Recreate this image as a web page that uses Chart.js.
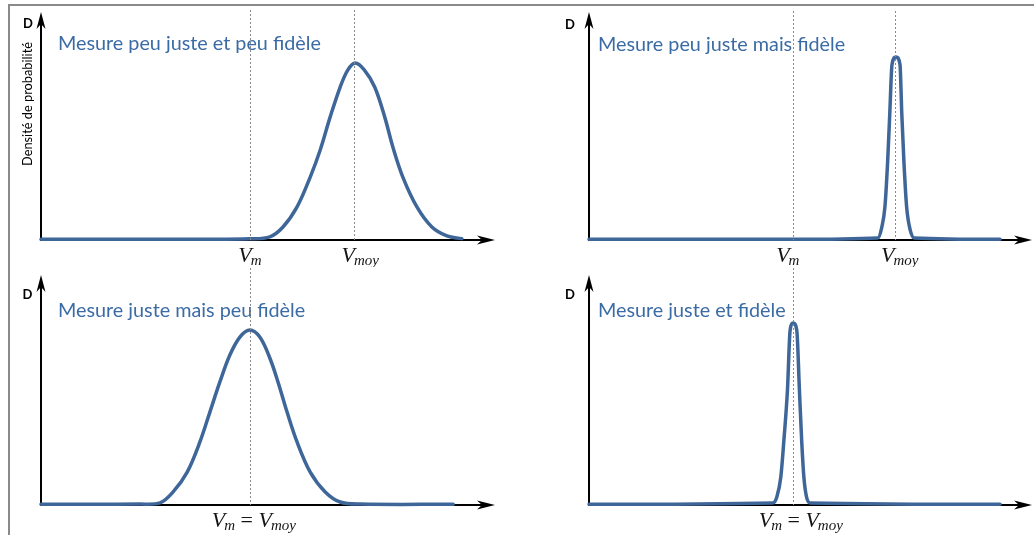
<!DOCTYPE html>
<html><head><meta charset="utf-8">
<script src="https://cdn.jsdelivr.net/npm/chart.js@4"></script>
<style>
html,body{margin:0;padding:0;background:#fff;}
#page{position:relative;width:1034px;height:535px;overflow:hidden;background:#fff;}
#frame{position:absolute;left:8px;top:4px;width:1040px;height:540px;border-top:2px solid #8a8a8a;border-left:2px solid #8a8a8a;}
canvas{position:absolute;}
</style></head><body>
<div id="page">
<div id="frame"></div>
<canvas id="c0" width="517" height="267" style="left:0;top:0"></canvas>
<canvas id="c1" width="517" height="267" style="left:517px;top:0"></canvas>
<canvas id="c2" width="517" height="268" style="left:0;top:267px"></canvas>
<canvas id="c3" width="517" height="268" style="left:517px;top:267px"></canvas>
</div>
<script>
// ---------- data ----------
const titles = ["Mesure peu juste et peu fidèle", "Mesure peu juste mais fidèle", "Mesure juste mais peu fidèle", "Mesure juste et fidèle"];
const yAxisTitle = "Densité de probabilité";
const yAxisLetter = "D";
const xMin = -46, xMax = 54;
const vM = 0;          // valeur vraie
const vMoyShift = 23;  // valeur moyenne (mesure peu juste)

// peu juste et peu fidèle
const tlX = [-46, -10, 0, 4.4, 7.3, 10.4, 13.3, 15.5, 17.7, 19.9, 21.6, 23.2, 25.2, 27.5, 29.7, 31.5, 33.7, 36.8, 40.1, 43.4, 46.7];
const tlY = [0.003, 0.003, 0.005, 0.014, 0.057, 0.145, 0.276, 0.395, 0.54, 0.671, 0.746, 0.776, 0.746, 0.671, 0.54, 0.408, 0.276, 0.145, 0.057, 0.018, 0.006];
// peu juste mais fidèle
const trX = [-46, 0, 19.2, 20.1, 20.8, 21.4, 21.9, 22.4, 23.3, 24.2, 24.6, 25.1, 25.7, 26.5, 27.4, 46.8];
const trY = [0.003, 0.003, 0.009, 0.057, 0.145, 0.338, 0.557, 0.77, 0.803, 0.77, 0.557, 0.338, 0.145, 0.044, 0.009, 0.003];
// juste mais peu fidèle
const blX = [-46, -24.2, -19.8, -16.9, -13.8, -11.0, -8.8, -6.6, -4.4, -2.2, 0, 2.2, 4.4, 6.2, 8.2, 10.4, 13.3, 16.6, 19.9, 24.3, 44.8];
const blY = [0.003, 0.004, 0.009, 0.057, 0.143, 0.274, 0.404, 0.535, 0.652, 0.730, 0.761, 0.730, 0.639, 0.535, 0.404, 0.274, 0.143, 0.057, 0.013, 0.004, 0.003];
// juste et fidèle
const brX = [-46, -4.5, -3.6, -2.7, -2.0, -1.2, -0.6, 0.1, 0.9, 1.5, 2.0, 2.5, 3.1, 3.9, 46.8];
const brY = [0.003, 0.009, 0.035, 0.122, 0.283, 0.5, 0.76, 0.791, 0.76, 0.5, 0.283, 0.122, 0.035, 0.009, 0.003];

// ---------- style ----------
const CURVE = '#3e6699';
const TITLE_COLOR = '#3b6ba5';
const SERIF = '"Liberation Serif", "DejaVu Serif", serif';
const SANS = 'Lato, "Open Sans", sans-serif';

function fitSize(ctx, family, weight, text, target, base) {
  ctx.save();
  ctx.font = weight + ' ' + base + 'px ' + family;
  const w = ctx.measureText(text).width;
  ctx.restore();
  return base * target / w;
}

function arrowHead(ctx, x, y, dx, dy, L, W, back) {
  const px = -dy, py = dx;
  ctx.beginPath();
  ctx.moveTo(x, y);
  ctx.lineTo(x - dx * L + px * W, y - dy * L + py * W);
  ctx.lineTo(x - dx * back, y - dy * back);
  ctx.lineTo(x - dx * L - px * W, y - dy * L - py * W);
  ctx.closePath();
  ctx.fill();
}

function drawMath(ctx, parts, cx, baseline) {
  let total = 0;
  parts.forEach(p => {
    ctx.font = (p.italic ? 'italic ' : '') + p.size + 'px ' + SERIF;
    p.w = ctx.measureText(p.t).width;
    total += p.w + (p.gap || 0);
  });
  let x = cx - total / 2;
  ctx.fillStyle = '#141414';
  ctx.textAlign = 'left';
  ctx.textBaseline = 'alphabetic';
  parts.forEach(p => {
    ctx.font = (p.italic ? 'italic ' : '') + p.size + 'px ' + SERIF;
    ctx.fillText(p.t, x, baseline + (p.dy || 0));
    x += p.w + (p.gap || 0);
  });
}
const V = () => ({t: 'V', size: 22, italic: true, gap: -1});
const sub = s => ({t: s, size: 15, italic: true, dy: 3});
const eq = () => ({t: ' = ', size: 22, italic: false});

let titleSize = null;

const deco = {
  id: 'deco',
  beforeDatasetsDraw(chart, args, o) {
    const {ctx, chartArea: a} = chart;
    ctx.save();
    ctx.strokeStyle = '#000';
    ctx.fillStyle = '#000';
    ctx.lineWidth = 2;
    ctx.beginPath();
    ctx.moveTo(a.left, a.bottom + 1);
    ctx.lineTo(a.left, a.top + 8);
    ctx.moveTo(a.left - 1, a.bottom);
    ctx.lineTo(a.right - 8, a.bottom);
    ctx.stroke();
    arrowHead(ctx, a.left, a.top, 0, -1, 17, 4.5, 12);
    arrowHead(ctx, a.right, a.bottom, 1, 0, 18, 4.5, 13);
    ctx.restore();
  },
  afterDatasetsDraw(chart, args, o) {
    const {ctx, chartArea: a, scales} = chart;
    ctx.save();
    if (titleSize === null) titleSize = fitSize(ctx, SANS, 'normal', titles[0], 263, 17);
    ctx.font = titleSize + 'px ' + SANS;
    ctx.fillStyle = TITLE_COLOR;
    ctx.textAlign = 'left';
    ctx.textBaseline = 'alphabetic';
    ctx.fillText(o.title, a.left + o.titleDx, a.top + o.titleDy);
    ctx.font = 'bold 13px ' + SANS;
    ctx.fillStyle = '#000';
    ctx.textAlign = 'center';
    ctx.fillText(yAxisLetter, a.left - o.dDx, a.top + o.dDy);
    if (o.yTitle) {
      const s = fitSize(ctx, SANS, 'normal', yAxisTitle, 124, 12);
      ctx.save();
      ctx.translate(a.left - 13, a.top + 92);
      ctx.rotate(-Math.PI / 2);
      ctx.font = s + 'px ' + SANS;
      ctx.textAlign = 'center';
      ctx.textBaseline = 'middle';
      ctx.fillText(yAxisTitle, 0, 0);
      ctx.restore();
    }
    ctx.strokeStyle = '#8a8a8a';
    ctx.lineWidth = 1;
    ctx.setLineDash([2, 2]);
    o.lines.forEach(v => {
      const x = Math.round(scales.x.getPixelForValue(v)) + 0.5;
      ctx.beginPath();
      ctx.moveTo(x, a.top - o.lineTopExtra);
      ctx.lineTo(x, a.bottom);
      ctx.stroke();
    });
    ctx.setLineDash([]);
    o.labels.forEach(l => {
      drawMath(ctx, l.parts, scales.x.getPixelForValue(l.at) + l.dx, a.bottom + 22);
    });
    ctx.restore();
  }
};

function makeChart(id, xs, ys, pad, opts, interp) {
  const ds = {
    data: xs.map((x, i) => ({x: x, y: ys[i]})),
    borderColor: CURVE, borderWidth: 3.5, pointRadius: 0, fill: false, clip: false,
    borderCapStyle: 'round', borderJoinStyle: 'round'
  };
  if (interp === 'monotone') ds.cubicInterpolationMode = 'monotone';
  else ds.tension = 0.35;
  return new Chart(document.getElementById(id), {
    type: 'line',
    data: {datasets: [ds]},
    options: {
      responsive: false, animation: false, events: [],
      layout: {padding: pad},
      scales: {
        x: {type: 'linear', min: xMin, max: xMax, display: false},
        y: {min: 0, max: 1, display: false}
      },
      plugins: {legend: {display: false}, tooltip: {enabled: false}, deco: opts}
    },
    plugins: [deco]
  });
}

makeChart('c0', tlX, tlY, {left: 41, right: 22, top: 12, bottom: 27}, {
  title: titles[0], titleDx: 17, titleDy: 38, dDx: 13, dDy: 16, yTitle: true,
  lines: [vM, vM + vMoyShift], lineTopExtra: 2,
  labels: [{at: vM, dx: 0, parts: [V(), sub('m')]}, {at: vM + vMoyShift, dx: 6, parts: [V(), sub('moy')]}]
}, 'smooth');
makeChart('c1', trX, trY, {left: 72, right: 2, top: 12, bottom: 27}, {
  title: titles[1], titleDx: 9, titleDy: 38.5, dDx: 19, dDy: 16.5, yTitle: false,
  lines: [vM, vM + vMoyShift], lineTopExtra: 1,
  labels: [{at: vM, dx: -5, parts: [V(), sub('m')]}, {at: vM + vMoyShift, dx: 5, parts: [V(), sub('moy')]}]
}, 'monotone');
makeChart('c2', blX, blY, {left: 41, right: 22, top: 8, bottom: 30}, {
  title: titles[2], titleDx: 17, titleDy: 41.5, dDx: 13.5, dDy: 24, yTitle: false,
  lines: [vM], lineTopExtra: 7,
  labels: [{at: vM, dx: 4, parts: [V(), sub('m'), eq(), V(), sub('moy')]}]
}, 'smooth');
makeChart('c3', brX, brY, {left: 72, right: 2, top: 8, bottom: 30}, {
  title: titles[3], titleDx: 9, titleDy: 41.5, dDx: 19, dDy: 24, yTitle: false,
  lines: [vM], lineTopExtra: 7,
  labels: [{at: vM, dx: 8, parts: [V(), sub('m'), eq(), V(), sub('moy')]}]
}, 'monotone');
</script>
</body></html>
